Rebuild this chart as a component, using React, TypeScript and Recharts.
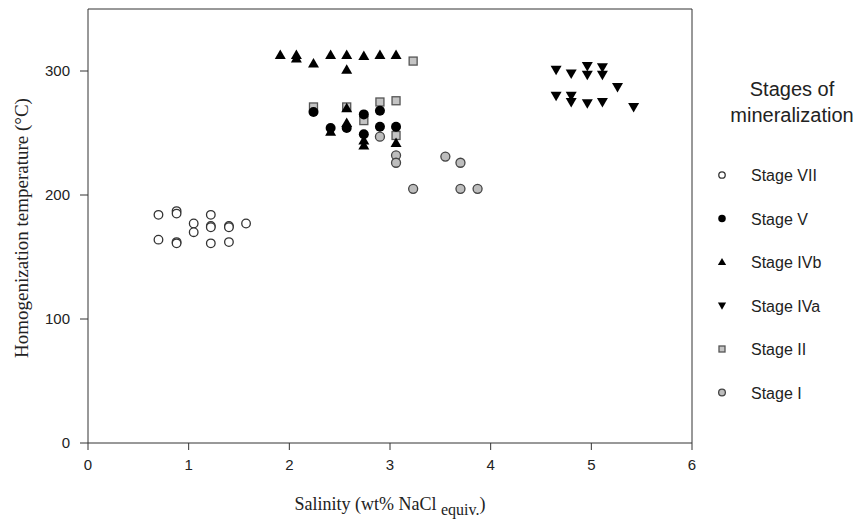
import React from "react";
import {
  ScatterChart,
  Scatter,
  XAxis,
  YAxis,
  ReferenceLine,
} from "recharts";

// salinity (wt% NaCl equiv.) vs homogenization temperature (°C)
const stageVII = [
  { x: 0.7, y: 184 }, { x: 0.7, y: 164 },
  { x: 0.88, y: 187 }, { x: 0.88, y: 185 }, { x: 0.88, y: 162 }, { x: 0.88, y: 161 },
  { x: 1.05, y: 177 }, { x: 1.05, y: 170 },
  { x: 1.22, y: 184 }, { x: 1.22, y: 175 }, { x: 1.22, y: 174 }, { x: 1.22, y: 161 },
  { x: 1.4, y: 175 }, { x: 1.4, y: 174 }, { x: 1.4, y: 162 },
  { x: 1.57, y: 177 },
];

const stageV = [
  { x: 2.24, y: 267 }, { x: 2.41, y: 254 }, { x: 2.57, y: 254 },
  { x: 2.74, y: 265 }, { x: 2.74, y: 249 },
  { x: 2.9, y: 268 }, { x: 2.9, y: 255 }, { x: 3.06, y: 255 },
];

const stageIVb = [
  { x: 1.91, y: 313 }, { x: 2.07, y: 313 }, { x: 2.07, y: 310 }, { x: 2.24, y: 306 },
  { x: 2.41, y: 313 }, { x: 2.57, y: 313 }, { x: 2.57, y: 301 }, { x: 2.74, y: 312 },
  { x: 2.9, y: 313 }, { x: 3.06, y: 313 },
  { x: 2.41, y: 251 }, { x: 2.57, y: 270 }, { x: 2.57, y: 258 },
  { x: 2.74, y: 244 }, { x: 2.74, y: 240 }, { x: 3.06, y: 242 },
];

const stageIVa = [
  { x: 4.65, y: 301 }, { x: 4.8, y: 298 }, { x: 4.96, y: 304 }, { x: 4.96, y: 297 },
  { x: 5.11, y: 303 }, { x: 5.11, y: 297 }, { x: 5.26, y: 287 },
  { x: 4.65, y: 280 }, { x: 4.8, y: 280 }, { x: 4.8, y: 275 },
  { x: 4.96, y: 274 }, { x: 5.11, y: 275 }, { x: 5.42, y: 271 },
];

const stageII = [
  { x: 2.24, y: 271 }, { x: 2.57, y: 271 }, { x: 2.74, y: 260 },
  { x: 2.9, y: 275 }, { x: 3.06, y: 276 }, { x: 3.06, y: 248 }, { x: 3.23, y: 308 },
];

const stageI = [
  { x: 2.9, y: 247 }, { x: 3.06, y: 232 }, { x: 3.06, y: 226 }, { x: 3.23, y: 205 },
  { x: 3.55, y: 231 }, { x: 3.7, y: 226 }, { x: 3.7, y: 205 }, { x: 3.87, y: 205 },
];

const xTicks = [0, 1, 2, 3, 4, 5, 6];
const yTicks = [0, 100, 200, 300];
const legendNames = ["Stage VII", "Stage V", "Stage IVb", "Stage IVa", "Stage II", "Stage I"];

const sans = "'Liberation Sans', Arial, sans-serif";
const serif = "'Liberation Serif', 'Times New Roman', serif";

// marker drawing, k scales the size (legend uses smaller ones)
const drawMarker = (kind: string, cx: number, cy: number, k = 1) => {
  if (kind === "open")
    return <circle cx={cx} cy={cy} r={4.3 * k} fill="#fff" stroke="#333" strokeWidth={1.3} />;
  if (kind === "dot") return <circle cx={cx} cy={cy} r={5 * k} fill="#000" />;
  if (kind === "gray")
    return <circle cx={cx} cy={cy} r={4.5 * k} fill="#bdbdbd" stroke="#444" strokeWidth={1.3} />;
  if (kind === "square")
    return (
      <rect x={cx - 4 * k} y={cy - 4 * k} width={8 * k} height={8 * k}
        fill="#c4c4c4" stroke="#555" strokeWidth={1.3} />
    );
  if (kind === "up")
    return (
      <polygon fill="#000"
        points={`${cx},${cy - 5.5 * k} ${cx - 5.5 * k},${cy + 4 * k} ${cx + 5.5 * k},${cy + 4 * k}`} />
    );
  return (
    <polygon fill="#000"
      points={`${cx - 5.5 * k},${cy - 4 * k} ${cx + 5.5 * k},${cy - 4 * k} ${cx},${cy + 5.5 * k}`} />
  );
};

const legendKinds = ["open", "dot", "up", "down", "square", "gray"];

const shapeOf = (kind: string) => (props: any) => drawMarker(kind, props.cx, props.cy);

const StageLegend = () => (
  <svg width={177} height={524} style={{ display: "block" }}>
    <text x={112} y={96} textAnchor="middle" fontFamily={sans} fontSize={20} fill="#222">
      Stages of
    </text>
    <text x={112} y={122} textAnchor="middle" fontFamily={sans} fontSize={20} fill="#222">
      mineralization
    </text>
    {legendNames.map((name, i) => (
      <g key={name}>
        {drawMarker(legendKinds[i], 42, 175 + i * 43.5, 0.75)}
        <text x={71} y={175 + i * 43.5 + 6} fontFamily={sans} fontSize={16} fill="#222">
          {name}
        </text>
      </g>
    ))}
  </svg>
);

const XLabel = (props: any) => {
  const { viewBox } = props;
  const cx = viewBox.x + viewBox.width / 2;
  return (
    <text x={cx} y={viewBox.y + 67} textAnchor="middle" fontFamily={serif} fontSize={18} fill="#222">
      <tspan>Salinity (wt% NaCl </tspan>
      <tspan dy={5} fontSize={16}>equiv.</tspan>
      <tspan dy={-5}>)</tspan>
    </text>
  );
};

const YLabel = (props: any) => {
  const { viewBox } = props;
  const cy = viewBox.y + viewBox.height / 2 + 2;
  return (
    <text x={0} y={0} transform={`translate(28, ${cy}) rotate(-90)`} textAnchor="middle"
      fontFamily={serif} fontSize={19} fill="#222">
      Homogenization temperature (°C)
    </text>
  );
};

export default function App() {
  return (
    <div style={{ position: "absolute", left: 0, top: 0, width: 857, height: 524 }}>
      <ScatterChart width={857} height={524} margin={{ top: 9, right: 165, bottom: 41, left: 28 }}>
        <XAxis
          type="number"
          dataKey="x"
          domain={[0, 6]}
          ticks={xTicks}
          height={40}
          stroke="#333"
          tickSize={7}
          tickMargin={9}
          tick={{ fill: "#222", fontFamily: sans, fontSize: 15 }}
          label={<XLabel />}
        />
        <YAxis
          type="number"
          dataKey="y"
          domain={[0, 350]}
          ticks={yTicks}
          width={60}
          stroke="#333"
          tickSize={8}
          tickMargin={10}
          tick={{ fill: "#222", fontFamily: sans, fontSize: 15 }}
          label={<YLabel />}
        />
        <ReferenceLine y={350} stroke="#333" />
        <ReferenceLine x={6} stroke="#333" />
        <Scatter name="Stage VII" data={stageVII} shape={shapeOf("open")} isAnimationActive={false} />
        <Scatter name="Stage I" data={stageI} shape={shapeOf("gray")} isAnimationActive={false} />
        <Scatter name="Stage II" data={stageII} shape={shapeOf("square")} isAnimationActive={false} />
        <Scatter name="Stage V" data={stageV} shape={shapeOf("dot")} isAnimationActive={false} />
        <Scatter name="Stage IVb" data={stageIVb} shape={shapeOf("up")} isAnimationActive={false} />
        <Scatter name="Stage IVa" data={stageIVa} shape={shapeOf("down")} isAnimationActive={false} />
      </ScatterChart>
      <div style={{ position: "absolute", left: 680, top: 0 }}>
        <StageLegend />
      </div>
    </div>
  );
}
